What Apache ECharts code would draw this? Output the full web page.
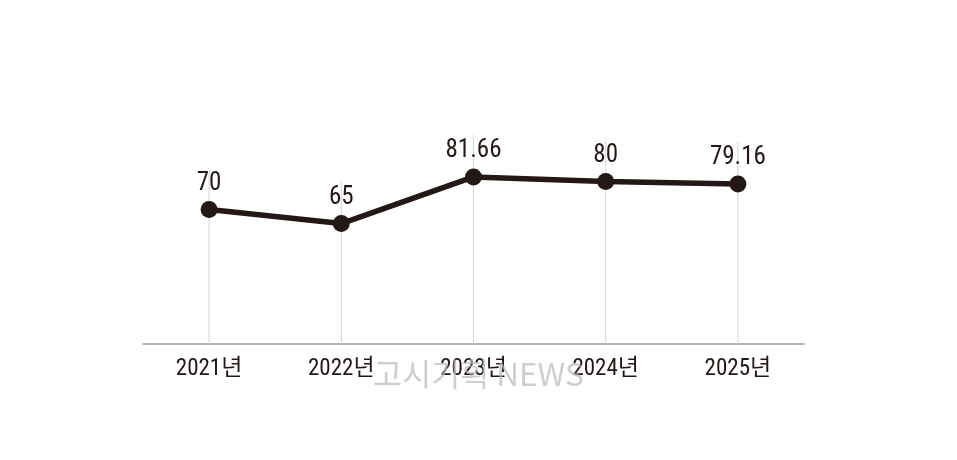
<!DOCTYPE html>
<html><head><meta charset="utf-8">
<script src="https://cdn.jsdelivr.net/npm/echarts@6/dist/echarts.min.js"></script>
<style>html,body{margin:0;padding:0;background:#fff}#c{width:957px;height:460px}</style>
</head><body><div id="c"></div>
<script>
const categories = ['2021년','2022년','2023년','2024년','2025년'];
const values = [70, 65, 81.66, 80, 79.16];
const valueLabels = ['70','65','81.66','80','79.16'];
const watermark = '고시기획 NEWS';

const FONT = "'Roboto Condensed','Noto Sans CJK KR',sans-serif";
const INK = '#231815';
const chart = echarts.init(document.getElementById('c'));
chart.setOption({
  backgroundColor: '#fff',
  animation: false,
  grid: {left: 143, right: 153, top: 125.6, bottom: 116},
  xAxis: {
    type: 'category', data: categories, boundaryGap: true,
    axisLine: {lineStyle: {color: '#9a9a9a', width: 1.5}},
    axisTick: {show: false},
    axisLabel: {color: INK, fontSize: 23, fontFamily: FONT, margin: 14}
  },
  yAxis: {type: 'value', min: 22, max: 100, show: false, splitLine: {show: false}},
  graphic: [{
    type: 'text', left: 'center', top: 358, z: 100,
    style: {text: watermark, fill: 'rgba(185,185,185,0.7)', font: "31.5px 'Noto Sans CJK KR', sans-serif"}
  }],
  series: [{
    type: 'custom',
    data: values.map((v, i) => [i, v]),
    z: 1,
    renderItem: function (params, api) {
      const p = api.coord([api.value(0), api.value(1)]);
      const b = api.coord([api.value(0), 22]);
      return {type: 'line', shape: {x1: p[0], y1: p[1] - 42, x2: p[0], y2: b[1]},
        style: {stroke: '#d4d4d4', lineWidth: 1}};
    }
  }, {
    type: 'line', data: values, z: 5,
    symbol: 'circle', symbolSize: 17,
    lineStyle: {color: INK, width: 5.5},
    itemStyle: {color: INK},
    label: {show: true, position: 'top', distance: 5, color: INK, fontSize: 25, fontFamily: FONT,
      formatter: p => valueLabels[p.dataIndex]}
  }]
});
</script></body></html>
